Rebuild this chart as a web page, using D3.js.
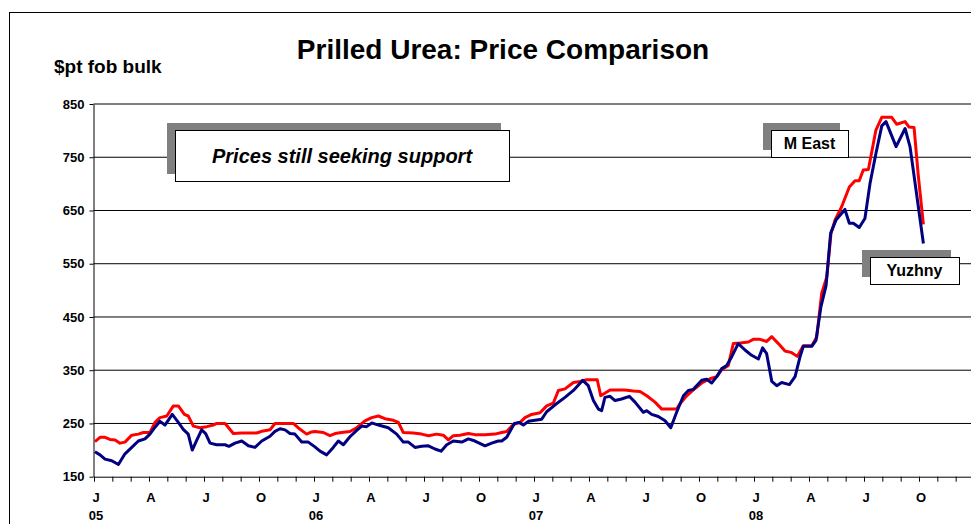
<!DOCTYPE html>
<html lang="en">
  <head>
    <meta charset="UTF-8">
    <title>Prilled Urea: Price Comparison</title>
    <style>
      body { margin: 0; background: #fff; }
      text { font-family: Arial, "Liberation Sans", sans-serif; fill: #000; }
    </style>
  </head>
  <body>
    <div id="chart"></div>
    <script src="https://d3js.org/d3.v7.min.js"></script>
    <script>
      // x = months counted from the start of Jan 2005
      let mEastMonth = [0.05, 0.33, 0.60, 0.87, 1.15, 1.42, 1.69, 2.06, 2.42, 2.69, 3.05, 3.33, 3.60, 3.97, 4.33, 4.60, 4.93, 5.14, 5.42, 5.78,
        6.15, 6.51, 6.69, 7.15, 7.60, 8.06, 8.87, 9.23, 9.60, 9.87, 10.42, 10.87, 11.24, 11.60, 11.87, 12.05, 12.51, 12.87, 13.15, 13.51,
        13.96, 14.33, 14.78, 15.15, 15.51, 15.87, 16.33, 16.60, 16.87, 17.42, 17.87, 18.24, 18.69, 19.05, 19.33, 19.60, 19.96, 20.42, 20.78, 21.33,
        21.87, 22.24, 22.51, 22.87, 23.24, 23.51, 23.87, 24.33, 24.69, 25.05, 25.33, 25.69, 26.15, 26.51, 26.87, 27.45, 27.64, 28.15, 28.96, 29.42,
        29.78, 30.15, 30.60, 30.97, 31.78, 31.96, 32.33, 32.69, 33.15, 33.60, 33.97, 34.24, 34.60, 34.87, 35.24, 35.69, 35.96, 36.33, 36.69, 36.97,
        37.33, 37.69, 38.06, 38.36, 38.69, 39.15, 39.42, 39.69, 39.97, 40.20, 40.42, 40.78, 41.20, 41.51, 41.74, 41.96, 42.24, 42.65, 42.97, 43.51,
        43.78, 44.24, 44.45, 44.73, 44.96, 45.24];
      let mEastPrice = [216, 224, 224, 220, 219, 213, 215, 228, 230, 233, 233, 252, 261, 264, 283, 283, 267, 264, 245, 242,
        244, 247, 250, 250, 231, 232, 232, 236, 238, 250, 250, 250, 239, 230, 234, 235, 233, 227, 231, 233,
        235, 242, 255, 261, 264, 259, 256, 252, 233, 232, 230, 227, 230, 228, 219, 227, 228, 231, 229, 229,
        230, 233, 235, 248, 252, 261, 267, 270, 283, 288, 312, 315, 327, 329, 332, 332, 302, 313, 313, 311,
        310, 302, 290, 277, 277, 287, 302, 313, 326, 334, 338, 351, 359, 400, 401, 403, 408, 408, 404, 413,
        400, 386, 383, 376, 396, 396, 412, 494, 525, 607, 632, 657, 694, 706, 706, 726, 727, 801, 825, 825,
        812, 817, 807, 806, 716, 624];

      let yuzhnyMonth = [0.05, 0.33, 0.60, 0.97, 1.33, 1.69, 2.06, 2.42, 2.78, 3.05, 3.33, 3.60, 3.87, 4.27, 4.60, 4.87, 5.14, 5.36, 5.60, 5.87,
        6.09, 6.33, 6.69, 7.15, 7.36, 7.69, 8.06, 8.42, 8.78, 9.15, 9.60, 9.87, 10.15, 10.42, 10.69, 10.96, 11.33, 11.69, 12.05, 12.33,
        12.69, 13.05, 13.33, 13.60, 13.96, 14.33, 14.60, 14.87, 15.15, 15.51, 16.05, 16.51, 16.87, 17.15, 17.51, 17.87, 18.24, 18.60, 18.93, 19.24,
        19.60, 20.06, 20.42, 20.78, 21.33, 21.69, 22.05, 22.24, 22.51, 22.93, 23.18, 23.42, 23.69, 24.42, 24.69, 25.15, 25.69, 26.15, 26.66, 26.96,
        27.24, 27.51, 27.69, 27.87, 28.15, 28.42, 28.78, 29.20, 29.51, 29.96, 30.15, 30.42, 30.78, 31.15, 31.46, 31.78, 32.15, 32.42, 32.69, 33.15,
        33.42, 33.69, 33.97, 34.24, 34.51, 34.78, 35.14, 35.51, 35.87, 36.24, 36.47, 36.69, 36.97, 37.24, 37.51, 37.93, 38.24, 38.51, 38.69, 39.15,
        39.38, 39.65, 39.93, 40.18, 40.47, 40.96, 41.20, 41.42, 41.74, 42.05, 42.33, 42.65, 42.97, 43.20, 43.75, 44.24, 44.51, 44.84, 45.24];
      let yuzhnyPrice = [197, 191, 183, 180, 173, 193, 205, 217, 221, 230, 243, 254, 247, 267, 252, 239, 230, 200, 218, 238,
        231, 213, 210, 210, 207, 213, 217, 208, 205, 217, 226, 235, 240, 238, 231, 230, 215, 215, 206, 198,
        191, 205, 217, 210, 225, 237, 245, 244, 251, 247, 242, 230, 215, 215, 205, 207, 208, 202, 198, 210,
        217, 215, 221, 217, 208, 213, 217, 217, 224, 250, 252, 247, 254, 258, 272, 285, 299, 312, 331, 321,
        293, 277, 274, 299, 301, 293, 296, 301, 290, 271, 274, 267, 263, 255, 242, 271, 302, 312, 314, 331,
        333, 326, 338, 353, 359, 375, 400, 388, 378, 371, 392, 381, 329, 321, 327, 323, 338, 375, 395, 395,
        406, 469, 509, 607, 632, 652, 626, 626, 618, 635, 701, 757, 809, 817, 770, 804, 770, 688, 588];

      let yTicks = [150, 250, 350, 450, 550, 650, 750, 850];
      let quarterNames = ["J", "A", "J", "O"];
      let yearNames = ["05", "06", "07", "08"];

      let width = 971;
      let height = 524;
      let svg = d3.select("#chart").append("svg").attr("width", width).attr("height", height);

      let x = d3.scaleLinear().domain([0, 48]).range([94, 974]);
      let y = d3.scaleLinear().domain([150, 850]).range([476.7, 104]);

      // outer frame
      svg.append("rect")
        .attr("x", 9.5).attr("y", 12.5).attr("width", 1000).attr("height", 600)
        .attr("fill", "none").attr("stroke", "#000");

      svg.append("text")
        .attr("x", 503).attr("y", 59)
        .attr("text-anchor", "middle")
        .style("font-size", "28px").style("font-weight", "bold")
        .text("Prilled Urea: Price Comparison");

      svg.append("text")
        .attr("x", 54).attr("y", 73)
        .style("font-size", "19px").style("font-weight", "bold")
        .text("$pt fob bulk");

      // gridlines
      svg.selectAll(".grid")
        .data(yTicks.slice(1))
        .enter()
        .append("line")
        .attr("class", "grid")
        .attr("x1", 93.5).attr("x2", width)
        .attr("y1", d => y(d)).attr("y2", d => y(d))
        .attr("stroke", "#000").attr("stroke-width", 1);

      let yAxis = svg.append("g")
        .attr("transform", "translate(93.5,0)")
        .call(d3.axisLeft(y).tickValues(yTicks).tickSize(4).tickSizeOuter(0).tickPadding(5).tickFormat(d3.format("d")));
      yAxis.selectAll("text").style("font-size", "13px").style("font-weight", "bold").attr("fill", "#000");

      let xAxis = svg.append("g")
        .attr("transform", "translate(0,476.7)")
        .call(d3.axisBottom(x).tickValues(d3.range(0, 49)).tickSize(5).tickSizeOuter(0).tickFormat(""));
      xAxis.selectAll("line, path").attr("stroke", "#000");
      yAxis.selectAll("line, path").attr("stroke", "#000");

      svg.selectAll(".qlabel")
        .data(d3.range(0, 16))
        .enter()
        .append("text")
        .attr("class", "qlabel")
        .attr("x", d => x(d * 3) + 2).attr("y", 502)
        .attr("text-anchor", "middle")
        .style("font-size", "13px").style("font-weight", "bold")
        .text(d => quarterNames[d % 4]);

      svg.selectAll(".ylabel")
        .data(yearNames)
        .enter()
        .append("text")
        .attr("class", "ylabel")
        .attr("x", (d, i) => x(i * 12) + 2).attr("y", 520)
        .attr("text-anchor", "middle")
        .style("font-size", "13px").style("font-weight", "bold")
        .text(d => d);

      // note boxes with shadow
      function noteBox(bx, by, bw, bh, label, size, italic) {
        svg.append("rect")
          .attr("x", bx - 8).attr("y", by - 7).attr("width", bw).attr("height", bh)
          .attr("fill", "#808080");
        svg.append("rect")
          .attr("x", bx + 0.5).attr("y", by + 0.5).attr("width", bw).attr("height", bh)
          .attr("fill", "#fff").attr("stroke", "#000");
        svg.append("text")
          .attr("x", bx + bw / 2).attr("y", by + bh / 2 + size * 0.36)
          .attr("text-anchor", "middle")
          .style("font-size", size + "px").style("font-weight", "bold")
          .style("font-style", italic ? "italic" : "normal")
          .text(label);
      }
      noteBox(175, 130, 334, 51, "Prices still seeking support", 20, true);

      let line = d3.line()
        .x(d => x(d[0]))
        .y(d => y(d[1]));

      svg.append("path")
        .datum(d3.zip(mEastMonth, mEastPrice))
        .attr("d", line)
        .attr("fill", "none")
        .attr("stroke", "#ff0000")
        .attr("stroke-width", 3)
        .attr("stroke-linejoin", "round");

      svg.append("path")
        .datum(d3.zip(yuzhnyMonth, yuzhnyPrice))
        .attr("d", line)
        .attr("fill", "none")
        .attr("stroke", "#000080")
        .attr("stroke-width", 3)
        .attr("stroke-linejoin", "round");

      noteBox(771, 130, 77, 27, "M East", 16, false);
      noteBox(870, 257, 89, 27, "Yuzhny", 16, false);
    </script>
  </body>
</html>
